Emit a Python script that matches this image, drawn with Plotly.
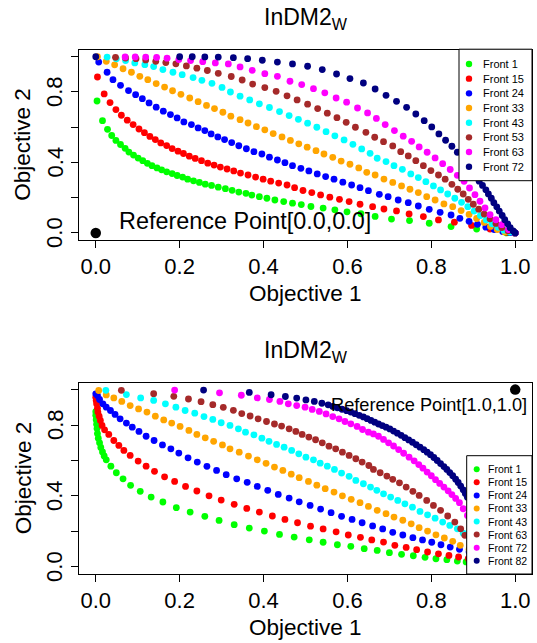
import plotly.graph_objects as go

W, H = 537, 643

# ---------------- DATA ----------------
colors = ["#00FF00", "#FF0000", "#0000FF", "#FFA500", "#00FFFF", "#A52A2A", "#FF00FF", "#000080"]

top_labels = ["Front 1", "Front 15", "Front 24", "Front 33", "Front 43", "Front 53", "Front 63", "Front 72"]
bot_labels = ["Front 1", "Front 15", "Front 24", "Front 33", "Front 43", "Front 63", "Front 72", "Front 82"]

x_ticks = [0.0, 0.2, 0.4, 0.6, 0.8, 1.0]
x_tick_text = ["0.0", "0.2", "0.4", "0.6", "0.8", "1.0"]
y_ticks = [0.0, 0.2, 0.4, 0.6, 0.8, 1.0]
y_label_ticks = [0.0, 0.4, 0.8]
y_label_text = ["0.0", "0.4", "0.8"]

top_ref_point = (0.0, 0.0)
bot_ref_point = (1.0, 1.0)
top_ref_text = "Reference Point[0.0,0.0]"
bot_ref_text = "Reference Point[1.0,1.0]"

# top panel fronts
top_front1 = [(0.003,0.749),(0.016,0.637),(0.028,0.588),(0.038,0.553),(0.048,0.525),(0.059,0.502),(0.070,0.480),
    (0.079,0.459),(0.090,0.442),(0.101,0.425),(0.112,0.410),(0.123,0.395),(0.134,0.382),(0.146,0.369),(0.157,0.358),
    (0.169,0.347),(0.182,0.337),(0.194,0.326),(0.207,0.317),(0.219,0.305),(0.233,0.296),(0.247,0.287),(0.261,0.277),
    (0.276,0.270),(0.292,0.260),(0.309,0.251),(0.325,0.242),(0.341,0.232),(0.358,0.225),(0.372,0.215),(0.390,0.206),
    (0.408,0.197),(0.427,0.187),(0.448,0.178),(0.469,0.169),(0.490,0.161),(0.513,0.150),(0.542,0.141),(0.570,0.131),
    (0.599,0.120),(0.632,0.109),(0.666,0.094),(0.705,0.079),(0.748,0.070),(0.795,0.055),(0.847,0.036),(0.908,0.022),
    (0.980,0.000),(1.000,0.000)]
top_front15 = [(0.004,0.885),(0.020,0.789),(0.034,0.740),(0.048,0.700),(0.061,0.668),(0.075,0.640),(0.089,0.615),
    (0.103,0.590),(0.116,0.569),(0.129,0.548),(0.142,0.530),(0.155,0.511),(0.169,0.496),(0.182,0.479),(0.196,0.464),
    (0.209,0.451),(0.223,0.436),(0.237,0.423),(0.252,0.410),(0.267,0.396),(0.282,0.385),(0.297,0.374),(0.313,0.363),
    (0.329,0.352),(0.345,0.340),(0.363,0.329),(0.381,0.317),(0.399,0.305),(0.417,0.294),(0.436,0.283),(0.456,0.272),
    (0.474,0.257),(0.494,0.241),(0.515,0.229),(0.536,0.216),(0.558,0.203),(0.581,0.191),(0.604,0.178),(0.630,0.163),
    (0.660,0.149),(0.687,0.136),(0.717,0.125),(0.747,0.108),(0.781,0.093),(0.817,0.074),(0.855,0.061),(0.896,0.043),
    (0.940,0.022),(0.980,0.004),(1.000,0.000)]
top_front24 = [(0.007,0.970),(0.027,0.912),(0.041,0.870),(0.059,0.838),(0.078,0.808),(0.095,0.785),(0.111,0.762),
    (0.127,0.738),(0.144,0.714),(0.161,0.691),(0.178,0.672),(0.194,0.653),(0.210,0.630),(0.228,0.615),(0.244,0.596),
    (0.260,0.581),(0.275,0.562),(0.291,0.545),(0.307,0.530),(0.324,0.513),(0.341,0.495),(0.359,0.478),(0.377,0.461),
    (0.396,0.448),(0.414,0.430),(0.433,0.414),(0.451,0.399),(0.469,0.382),(0.489,0.367),(0.508,0.352),(0.528,0.335),
    (0.548,0.320),(0.568,0.305),(0.589,0.288),(0.610,0.272),(0.630,0.257),(0.650,0.240),(0.676,0.219),(0.697,0.206),
    (0.721,0.187),(0.745,0.172),(0.769,0.153),(0.795,0.134),(0.821,0.117),(0.847,0.102),(0.868,0.083),(0.890,0.066),
    (0.910,0.049),(0.930,0.033),(0.950,0.019),(0.970,0.008),(0.988,0.002),(1.000,0.000)]
top_front33 = [(0.004,1.000),(0.025,0.974),(0.045,0.954),(0.065,0.932),(0.085,0.912),(0.105,0.889),(0.124,0.870),
    (0.144,0.848),(0.164,0.828),(0.183,0.807),(0.203,0.787),(0.224,0.766),(0.244,0.745),(0.264,0.724),(0.283,0.706),
    (0.303,0.685),(0.322,0.663),(0.344,0.643),(0.363,0.624),(0.383,0.603),(0.403,0.585),(0.423,0.564),(0.444,0.545),
    (0.464,0.525),(0.484,0.506),(0.504,0.487),(0.525,0.467),(0.544,0.448),(0.565,0.429),(0.585,0.408),(0.606,0.390),
    (0.627,0.369),(0.646,0.344),(0.666,0.329),(0.687,0.306),(0.708,0.287),(0.729,0.267),(0.749,0.248),(0.769,0.229),
    (0.789,0.206),(0.809,0.187),(0.830,0.165),(0.851,0.149),(0.871,0.127),(0.890,0.105),(0.908,0.082),(0.926,0.060),
    (0.941,0.037),(0.957,0.019),(0.975,0.006),(1.000,0.000)]
top_front43 = [(0.027,0.998),(0.049,0.988),(0.071,0.978),(0.093,0.965),(0.117,0.955),(0.138,0.944),(0.160,0.927),
    (0.184,0.912),(0.206,0.898),(0.232,0.882),(0.253,0.866),(0.277,0.849),(0.301,0.826),(0.321,0.800),(0.344,0.776),
    (0.367,0.755),(0.390,0.733),(0.414,0.712),(0.438,0.689),(0.461,0.666),(0.483,0.645),(0.505,0.623),(0.527,0.600),
    (0.549,0.575),(0.570,0.551),(0.592,0.528),(0.613,0.503),(0.634,0.477),(0.654,0.452),(0.671,0.424),(0.692,0.405),
    (0.711,0.382),(0.731,0.361),(0.751,0.335),(0.769,0.314),(0.787,0.291),(0.805,0.267),(0.822,0.244),(0.839,0.221),
    (0.856,0.197),(0.872,0.174),(0.887,0.149),(0.902,0.124),(0.917,0.099),(0.931,0.074),(0.945,0.052),(0.959,0.032),
    (0.973,0.016),(0.987,0.005),(1.000,0.000)]
top_front53 = [(0.047,0.997),(0.071,0.993),(0.096,0.989),(0.119,0.982),(0.143,0.974),(0.167,0.967),(0.191,0.960),
    (0.216,0.948),(0.241,0.935),(0.266,0.922),(0.292,0.906),(0.323,0.888),(0.349,0.868),(0.374,0.845),(0.403,0.825),
    (0.430,0.804),(0.456,0.778),(0.480,0.755),(0.505,0.731),(0.529,0.706),(0.552,0.680),(0.575,0.654),(0.597,0.628),
    (0.619,0.600),(0.644,0.571),(0.665,0.543),(0.686,0.518),(0.708,0.494),(0.727,0.461),(0.745,0.437),(0.763,0.410),
    (0.781,0.382),(0.799,0.354),(0.817,0.329),(0.833,0.305),(0.849,0.276),(0.863,0.248),(0.876,0.221),(0.888,0.191),
    (0.900,0.163),(0.913,0.135),(0.926,0.107),(0.940,0.080),(0.954,0.054),(0.968,0.031),(0.983,0.012),(1.000,0.000)]
top_front63 = [(0.070,0.999),(0.094,0.999),(0.119,0.998),(0.145,0.996),(0.170,0.992),(0.198,0.984),(0.226,0.978),
    (0.255,0.972),(0.285,0.965),(0.316,0.959),(0.344,0.942),(0.373,0.923),(0.403,0.904),(0.433,0.889),(0.463,0.861),
    (0.491,0.842),(0.519,0.819),(0.546,0.795),(0.573,0.766),(0.598,0.742),(0.624,0.709),(0.648,0.681),(0.669,0.650),
    (0.690,0.615),(0.712,0.581),(0.733,0.549),(0.753,0.520),(0.771,0.488),(0.790,0.458),(0.809,0.426),(0.827,0.393),
    (0.845,0.360),(0.862,0.327),(0.878,0.293),(0.891,0.255),(0.904,0.217),(0.916,0.180),(0.928,0.142),(0.940,0.104),
    (0.954,0.075),(0.968,0.047),(0.984,0.019),(1.000,0.000)]
top_front72 = [(0.000,1.000),(0.200,1.000),(0.230,1.000),(0.260,0.999),(0.292,0.998),(0.328,0.995),(0.362,0.989),
    (0.397,0.980),(0.433,0.970),(0.469,0.959),(0.505,0.946),(0.540,0.927),(0.574,0.902),(0.606,0.876),(0.638,0.851),
    (0.666,0.817),(0.692,0.781),(0.717,0.747),(0.741,0.713),(0.763,0.675),(0.783,0.637),(0.801,0.602),(0.818,0.562),
    (0.834,0.526),(0.849,0.492),(0.862,0.458),(0.875,0.423),(0.886,0.390),(0.896,0.356),(0.906,0.324),(0.914,0.294),
    (0.922,0.270),(0.930,0.245),(0.936,0.221),(0.943,0.197),(0.949,0.172),(0.956,0.148),(0.962,0.124),(0.969,0.099),
    (0.975,0.075),(0.982,0.052),(0.988,0.030),(0.995,0.011),(1.000,0.000)]

# bottom panel fronts
bot_front1 = [(0.000,0.875),(0.000,0.855),(0.001,0.830),(0.002,0.805),(0.003,0.780),(0.004,0.752),(0.006,0.726),
    (0.009,0.700),(0.012,0.674),(0.016,0.648),(0.020,0.626),(0.025,0.604),(0.036,0.568),(0.049,0.531),(0.065,0.497),
    (0.083,0.460),(0.106,0.426),(0.132,0.394),(0.160,0.366),(0.192,0.334),(0.225,0.309),(0.260,0.285),(0.294,0.262),
    (0.330,0.238),(0.366,0.219),(0.402,0.202),(0.438,0.183),(0.473,0.168),(0.509,0.153),(0.542,0.139),(0.576,0.125),
    (0.608,0.116),(0.640,0.103),(0.671,0.093),(0.700,0.080),(0.729,0.071),(0.757,0.063),(0.785,0.054),(0.811,0.046),
    (0.837,0.041),(0.862,0.033),(0.883,0.028),(0.905,0.022),(0.928,0.016),(0.950,0.010),(0.975,0.005),(1.000,0.000)]
bot_front15 = [(0.000,0.957),(0.001,0.939),(0.002,0.920),(0.004,0.895),(0.005,0.873),(0.008,0.850),(0.011,0.826),
    (0.015,0.798),(0.021,0.773),(0.031,0.747),(0.043,0.713),(0.055,0.685),(0.067,0.657),(0.082,0.629),(0.101,0.597),
    (0.120,0.568),(0.140,0.539),(0.164,0.508),(0.188,0.482),(0.214,0.454),(0.241,0.428),(0.270,0.401),(0.299,0.377),
    (0.330,0.353),(0.360,0.330),(0.390,0.309),(0.421,0.287),(0.451,0.268),(0.481,0.249),(0.512,0.230),(0.542,0.214),
    (0.573,0.198),(0.602,0.180),(0.631,0.167),(0.658,0.152),(0.686,0.140),(0.713,0.122),(0.740,0.110),(0.765,0.097),
    (0.791,0.084),(0.817,0.074),(0.842,0.065),(0.865,0.056),(0.888,0.047),(0.910,0.038),(0.935,0.028),(0.960,0.017),
    (0.980,0.008),(1.000,0.000)]
bot_front24 = [(0.000,0.976),(0.004,0.967),(0.009,0.944),(0.017,0.920),(0.025,0.901),(0.035,0.882),(0.046,0.860),
    (0.058,0.835),(0.073,0.811),(0.087,0.788),(0.103,0.764),(0.120,0.737),(0.139,0.713),(0.159,0.688),(0.179,0.666),
    (0.198,0.642),(0.220,0.615),(0.242,0.591),(0.265,0.567),(0.288,0.544),(0.311,0.520),(0.336,0.497),(0.361,0.477),
    (0.385,0.454),(0.410,0.432),(0.435,0.409),(0.461,0.388),(0.485,0.367),(0.511,0.347),(0.536,0.326),(0.561,0.306),
    (0.586,0.285),(0.611,0.268),(0.635,0.249),(0.660,0.231),(0.684,0.214),(0.708,0.195),(0.732,0.180),(0.756,0.165),
    (0.779,0.152),(0.801,0.139),(0.823,0.125),(0.845,0.112),(0.867,0.099),(0.890,0.085),(0.912,0.070),(0.935,0.052),
    (0.958,0.033),(0.980,0.014),(1.000,0.000)]
bot_front33 = [(0.007,0.995),(0.025,0.970),(0.043,0.953),(0.062,0.933),(0.082,0.910),(0.102,0.891),(0.122,0.873),
    (0.142,0.850),(0.162,0.829),(0.181,0.811),(0.201,0.792),(0.222,0.770),(0.241,0.747),(0.261,0.728),(0.281,0.708),
    (0.302,0.688),(0.320,0.666),(0.342,0.647),(0.364,0.625),(0.385,0.604),(0.406,0.584),(0.426,0.563),(0.446,0.544),
    (0.466,0.523),(0.485,0.503),(0.507,0.482),(0.527,0.461),(0.547,0.441),(0.568,0.422),(0.588,0.401),(0.609,0.381),
    (0.630,0.362),(0.650,0.341),(0.671,0.319),(0.692,0.300),(0.711,0.281),(0.732,0.263),(0.752,0.243),(0.771,0.221),
    (0.791,0.202),(0.811,0.181),(0.831,0.163),(0.851,0.144),(0.869,0.122),(0.890,0.100),(0.910,0.078),(0.930,0.057),
    (0.950,0.037),(0.970,0.019),(0.990,0.005),(1.000,0.000)]
bot_front43 = [(0.024,0.996),(0.073,0.972),(0.107,0.953),(0.138,0.939),(0.166,0.920),(0.191,0.901),(0.213,0.882),
    (0.236,0.867),(0.258,0.848),(0.279,0.832),(0.299,0.813),(0.320,0.798),(0.340,0.779),(0.357,0.760),(0.377,0.745),
    (0.396,0.726),(0.413,0.708),(0.431,0.691),(0.449,0.675),(0.467,0.657),(0.484,0.638),(0.501,0.619),(0.519,0.604),
    (0.535,0.585),(0.552,0.568),(0.569,0.550),(0.586,0.529),(0.604,0.511),(0.620,0.488),(0.638,0.469),(0.655,0.450),
    (0.670,0.432),(0.686,0.412),(0.703,0.394),(0.720,0.375),(0.737,0.356),(0.755,0.337),(0.773,0.313),(0.791,0.294),
    (0.809,0.275),(0.827,0.253),(0.844,0.234),(0.862,0.215),(0.876,0.190),(0.892,0.165),(0.908,0.135),(0.925,0.105),
    (0.942,0.075),(0.960,0.045),(0.980,0.018),(1.000,0.000)]
bot_front63 = [(0.061,0.996),(0.138,0.977),(0.186,0.962),(0.221,0.947),(0.251,0.932),(0.279,0.915),(0.304,0.900),
    (0.328,0.883),(0.348,0.865),(0.368,0.851),(0.387,0.835),(0.407,0.820),(0.426,0.806),(0.443,0.794),(0.461,0.779),
    (0.477,0.764),(0.492,0.747),(0.508,0.732),(0.524,0.717),(0.540,0.700),(0.556,0.681),(0.572,0.666),(0.588,0.647),
    (0.604,0.629),(0.620,0.610),(0.635,0.591),(0.651,0.572),(0.662,0.550),(0.678,0.531),(0.694,0.512),(0.708,0.494),
    (0.724,0.474),(0.740,0.450),(0.756,0.426),(0.771,0.403),(0.789,0.375),(0.805,0.347),(0.822,0.319),(0.839,0.287),
    (0.856,0.253),(0.870,0.215),(0.880,0.178),(0.895,0.140),(0.912,0.105),(0.930,0.073),(0.950,0.043),(0.970,0.018),
    (1.000,0.000)]
bot_front72 = [(0.188,0.997),(0.295,0.982),(0.347,0.968),(0.385,0.953),(0.414,0.944),(0.439,0.933),(0.459,0.920),
    (0.479,0.910),(0.499,0.901),(0.516,0.888),(0.533,0.877),(0.549,0.863),(0.565,0.848),(0.580,0.835),(0.594,0.820),
    (0.608,0.807),(0.623,0.792),(0.636,0.775),(0.650,0.760),(0.662,0.750),(0.674,0.737),(0.686,0.719),(0.698,0.700),
    (0.710,0.682),(0.722,0.662),(0.734,0.641),(0.747,0.619),(0.759,0.598),(0.770,0.577),(0.780,0.557),(0.790,0.535),
    (0.800,0.514),(0.810,0.492),(0.820,0.471),(0.830,0.450),(0.840,0.429),(0.849,0.408),(0.858,0.386),(0.867,0.362),
    (0.876,0.328),(0.886,0.290),(0.898,0.250),(0.912,0.205),(0.928,0.160),(0.945,0.115),(0.962,0.070),(0.980,0.030),
    (1.000,0.000)]
bot_front82 = [(0.257,0.997),(0.366,0.984),(0.418,0.971),(0.452,0.961),(0.479,0.952),(0.501,0.942),(0.521,0.933),
    (0.539,0.923),(0.554,0.914),(0.565,0.905),(0.576,0.897),(0.587,0.889),(0.598,0.881),(0.608,0.873),(0.618,0.864),
    (0.628,0.855),(0.638,0.846),(0.647,0.836),(0.656,0.826),(0.665,0.816),(0.674,0.806),(0.683,0.797),(0.692,0.788),
    (0.701,0.778),(0.710,0.766),(0.719,0.754),(0.728,0.742),(0.737,0.729),(0.746,0.716),(0.755,0.703),(0.764,0.689),
    (0.773,0.675),(0.782,0.661),(0.790,0.647),(0.798,0.633),(0.806,0.617),(0.814,0.600),(0.822,0.583),(0.830,0.566),
    (0.837,0.550),(0.844,0.532),(0.851,0.514),(0.858,0.495),(0.864,0.476),(0.870,0.456),(0.876,0.435),(0.881,0.414),
    (0.886,0.393),(0.895,0.350),(0.910,0.290),(0.925,0.230),(0.940,0.175),(0.955,0.125),(0.970,0.080),(0.985,0.035),
    (1.000,0.000)]

top_fronts = [top_front1, top_front15, top_front24, top_front33, top_front43, top_front53, top_front63, top_front72]
bot_fronts = [bot_front1, bot_front15, bot_front24, bot_front33, bot_front43, bot_front63, bot_front72, bot_front82]

# ---------------- FIGURE ----------------
FONT = "Liberation Sans, Arial, Helvetica, sans-serif"
fig = go.Figure()

for front, col, lab in zip(top_fronts, colors, top_labels):
    fig.add_trace(go.Scatter(x=[p[0] for p in front], y=[p[1] for p in front], mode="markers",
                             marker=dict(color=col, size=6.8, line=dict(width=0)), name=lab,
                             xaxis="x", yaxis="y", showlegend=False))
fig.add_trace(go.Scatter(x=[top_ref_point[0]], y=[top_ref_point[1]], mode="markers",
                         marker=dict(color="black", size=10.5, line=dict(width=0)),
                         xaxis="x", yaxis="y", showlegend=False))

for front, col, lab in zip(bot_fronts, colors, bot_labels):
    fig.add_trace(go.Scatter(x=[p[0] for p in front], y=[p[1] for p in front], mode="markers",
                             marker=dict(color=col, size=6.8, line=dict(width=0)), name=lab,
                             xaxis="x2", yaxis="y2", showlegend=False))
fig.add_trace(go.Scatter(x=[bot_ref_point[0]], y=[bot_ref_point[1]], mode="markers",
                         marker=dict(color="black", size=10.5, line=dict(width=0)),
                         xaxis="x2", yaxis="y2", showlegend=False))

def px_x(p):
    return p / W

def px_y(p):
    return 1 - p / H

box_l, box_r = 79, 532
top_t, top_b = 49.7, 240.0
bot_t, bot_b = 382.5, 574.0

axis_common = dict(range=[-0.04, 1.04], showgrid=False, zeroline=False, showline=True, mirror=True,
                   linecolor="black", linewidth=1, ticks="outside", ticklen=7, tickcolor="black",
                   tickwidth=1, tickfont=dict(family=FONT, size=22, color="black"))

fig.update_layout(
    width=W, height=H, margin=dict(l=0, r=0, t=0, b=0),
    paper_bgcolor="white", plot_bgcolor="white", showlegend=False,
    xaxis=dict(domain=[px_x(box_l), px_x(box_r)], anchor="y", tickvals=x_ticks, ticktext=x_tick_text,
               ticklabelstandoff=0, **axis_common),
    yaxis=dict(domain=[px_y(top_b), px_y(top_t)], anchor="x", tickvals=y_ticks, showticklabels=False,
               **axis_common),
    xaxis2=dict(domain=[px_x(box_l), px_x(box_r)], anchor="y2", tickvals=x_ticks, ticktext=x_tick_text,
                ticklabelstandoff=0, **axis_common),
    yaxis2=dict(domain=[px_y(bot_b), px_y(bot_t)], anchor="x2", tickvals=y_ticks, showticklabels=False,
                **axis_common),
)

ann = []
shapes = []
cx = (box_l + box_r) / 2
for ty, xy, yy_c in [(18, 293.5, (top_t + top_b) / 2), (351, 627, (bot_t + bot_b) / 2)]:
    ann.append(dict(text="InDM2<sub>W</sub>", x=px_x(cx), y=px_y(ty), xref="paper", yref="paper",
                    xanchor="center", yanchor="middle", showarrow=False,
                    font=dict(family=FONT, size=23, color="black")))
    ann.append(dict(text="Objective 1", x=px_x(cx), y=px_y(xy), xref="paper", yref="paper",
                    xanchor="center", yanchor="middle", showarrow=False,
                    font=dict(family=FONT, size=22.5, color="black")))
    ann.append(dict(text="Objective 2", x=px_x(23), y=px_y(yy_c), xref="paper", yref="paper",
                    xanchor="center", yanchor="middle", showarrow=False, textangle=-90,
                    font=dict(family=FONT, size=22.5, color="black")))

# rotated y tick labels (R style, parallel to the axis)
for yref in ["y", "y2"]:
    for v, t in zip(y_label_ticks, y_label_text):
        ann.append(dict(text=t, x=px_x(55), y=v, xref="paper", yref=yref, xanchor="center",
                        yanchor="middle", showarrow=False, textangle=-90,
                        font=dict(family=FONT, size=22, color="black")))

# reference point labels
ann.append(dict(text=top_ref_text, x=0.050, y=0.068, xref="x", yref="y", xanchor="left", yanchor="middle",
                showarrow=False, font=dict(family=FONT, size=23.4, color="black")))
ann.append(dict(text=bot_ref_text, x=1.033, y=0.914, xref="x2", yref="y2", xanchor="right", yanchor="middle",
                showarrow=False, font=dict(family=FONT, size=18.2, color="black")))

# manual legends
def add_legend(x0, x1, y0, y1, row0, step, mx, tx, fsize, labels, r):
    shapes.append(dict(type="rect", xref="paper", yref="paper", x0=px_x(x0), x1=px_x(x1),
                       y0=px_y(y1), y1=px_y(y0), fillcolor="white", line=dict(color="black", width=1),
                       layer="above"))
    for i, (lab, col) in enumerate(zip(labels, colors)):
        cy = row0 + i * step
        shapes.append(dict(type="circle", xref="paper", yref="paper", x0=px_x(mx - r), x1=px_x(mx + r),
                           y0=px_y(cy + r), y1=px_y(cy - r), fillcolor=col, line=dict(width=0),
                           layer="above"))
        ann.append(dict(text=lab, x=px_x(tx), y=px_y(cy), xref="paper", yref="paper", xanchor="left",
                        yanchor="middle", showarrow=False, font=dict(family=FONT, size=fsize, color="black")))

add_legend(459, 532, 49.2, 180.7, 64.0, 14.67, 469.0, 480.5, 11, top_labels, 3.2)
add_legend(466.7, 532, 455.7, 574.0, 469.3, 13.06, 476.7, 486.0, 10.5, bot_labels, 3.0)

fig.update_layout(annotations=ann, shapes=shapes)
fig.write_html("out.html", config={"displayModeBar": False},
               post_script="document.body.style.margin='0px';document.body.style.overflow='hidden';")
